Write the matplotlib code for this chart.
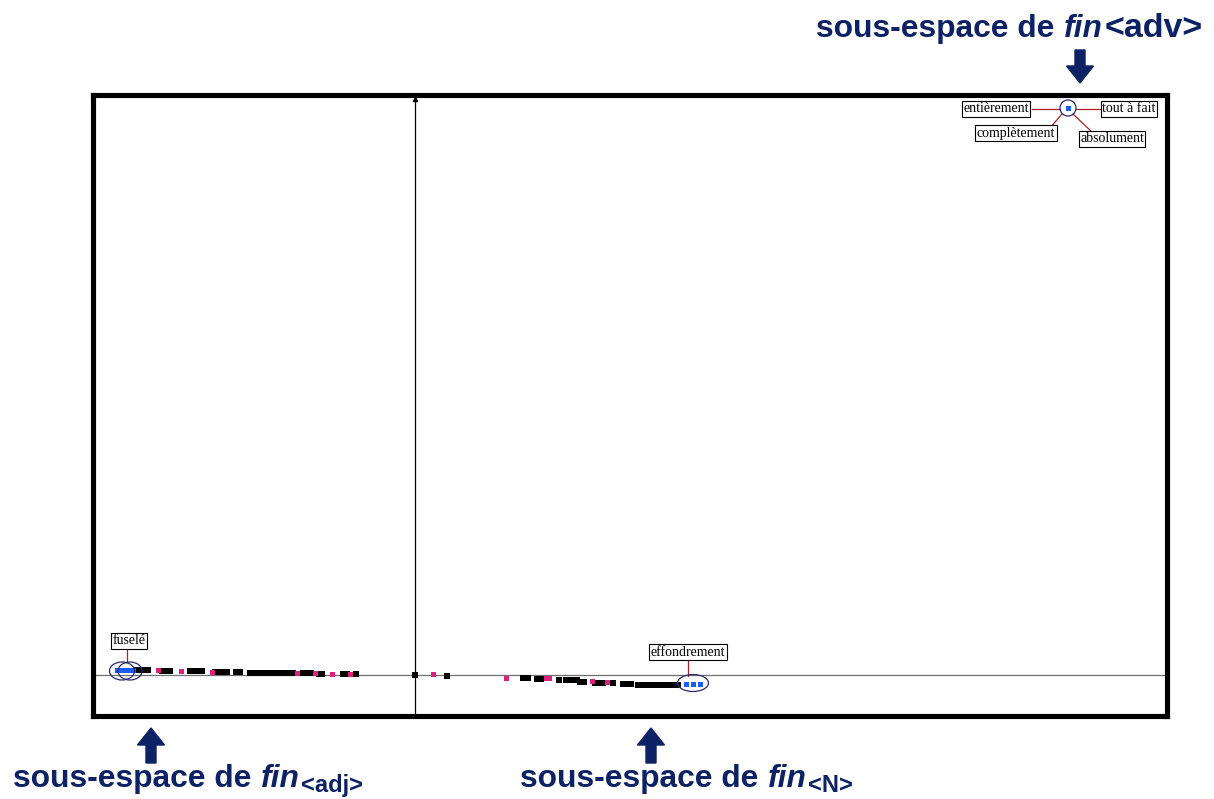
import matplotlib
matplotlib.use('Agg')
import matplotlib.pyplot as plt
from matplotlib.patches import Ellipse, FancyArrow
from matplotlib.transforms import IdentityTransform

# ── Données (coordonnées, origine = croisement des axes) ──
adj_noir_x = [-2.78, -2.76, -2.73, -2.70, -2.67, -2.53, -2.48, -2.45,
              -2.25, -2.22, -2.19, -2.16, -2.13, -2.00, -1.97, -1.94, -1.91, -1.88,
              -1.79, -1.75, -1.65, -1.61, -1.57, -1.53, -1.49, -1.45, -1.41, -1.37, -1.33,
              -1.30, -1.26, -1.22, -1.12, -1.08, -1.04, -0.96, -0.93, -0.72, -0.68, -0.59]
adj_noir_y = [0.05, 0.05, 0.05, 0.05, 0.05, 0.045, 0.04, 0.04,
              0.04, 0.04, 0.04, 0.04, 0.04, 0.035, 0.035, 0.035, 0.035, 0.035,
              0.03, 0.03, 0.025, 0.025, 0.025, 0.025, 0.025, 0.025, 0.025, 0.025, 0.025,
              0.02, 0.02, 0.02, 0.02, 0.02, 0.02, 0.015, 0.015, 0.01, 0.01, 0.01]
adj_rose_x = [-2.57, -2.34, -2.03, -1.18, -1.00, -0.83, -0.65]
adj_rose_y = [0.05, 0.04, 0.035, 0.02, 0.02, 0.01, 0.01]
adj_bleu_x = [-2.98, -2.94, -2.90, -2.86, -2.82]
adj_bleu_y = [0.05, 0.05, 0.05, 0.05, 0.05]

n_noir_x = [0.0, 0.32, 1.08, 1.13, 1.22, 1.26, 1.44, 1.51, 1.55, 1.59, 1.62,
            1.65, 1.69, 1.80, 1.84, 1.88, 1.98, 2.08, 2.12, 2.16,
            2.23, 2.27, 2.31, 2.35, 2.39, 2.43, 2.47, 2.51, 2.55, 2.59, 2.63]
n_noir_y = [0.0, -0.01, -0.03, -0.03, -0.04, -0.04, -0.05, -0.05, -0.05, -0.05, -0.05,
            -0.07, -0.07, -0.08, -0.08, -0.08, -0.08, -0.085, -0.085, -0.085,
            -0.095, -0.095, -0.095, -0.095, -0.095, -0.095, -0.095, -0.095, -0.095, -0.095, -0.095]
n_rose_x = [0.18, 0.91, 1.31, 1.34, 1.77, 1.92]
n_rose_y = [0.01, -0.03, -0.03, -0.03, -0.06, -0.07]
n_bleu_x = [2.71, 2.78, 2.85]
n_bleu_y = [-0.09, -0.09, -0.09]

adv_bleu_x = [6.53]
adv_bleu_y = [5.67]

# ellipses : centre x, centre y, largeur, hauteur
ell_x = [-2.93, -2.85, 2.78, 6.53]
ell_y = [0.04, 0.04, -0.08, 5.67]
ell_w = [0.25, 0.24, 0.31, 0.16]
ell_h = [0.18, 0.18, 0.17, 0.16]

# étiquettes et traits de rappel
etiquettes = ['entièrement', 'tout à fait', 'complètement', 'absolument', 'fuselé', 'effondrement']
etiq_x = [5.81, 7.14, 6.01, 6.97, -2.86, 2.73]
etiq_y = [5.66, 5.66, 5.42, 5.36, 0.34, 0.23]
trait_x0 = [6.17, 6.61, 6.35, 6.78, -2.88, 2.73]
trait_y0 = [5.66, 5.66, 5.47, 5.42, 0.27, 0.17]
trait_x1 = [6.45, 6.85, 6.47, 6.58, -2.88, 2.73]
trait_y1 = [5.66, 5.66, 5.61, 5.61, 0.13, -0.01]

marine = '#0c2264'
rose = '#e0207f'
bleu = '#1a5cff'

# ── Figure ──
fig = plt.figure(figsize=(12.14, 7.99), dpi=100)
W, H = 1214, 799
ax = fig.add_axes([92.5 / W, (H - 716) / H, (1167 - 92.5) / W, (716 - 94.5) / H])
ax.set_xlim(-3.225, 7.52)
ax.set_ylim(-0.41, 5.805)
ax.set_xticks([])
ax.set_yticks([])
for s in ax.spines.values():
    s.set_linewidth(3.7)
    s.set_color('black')

ax.axhline(0, color='#707070', lw=0.9, zorder=1)
ax.axvline(0, color='black', lw=0.9, zorder=1)
ax.plot([0], [5.76], marker='^', color='black', ms=3, zorder=2)

for i in range(len(ell_x)):
    ax.add_patch(Ellipse((ell_x[i], ell_y[i]), ell_w[i], ell_h[i],
                         fill=False, ec='#2a2a70', lw=0.9, zorder=4))

for i in range(len(etiquettes)):
    ax.plot([trait_x0[i], trait_x1[i]], [trait_y0[i], trait_y1[i]],
            color='#b02020', lw=0.9, zorder=2)
    ax.text(etiq_x[i], etiq_y[i], etiquettes[i], ha='center', va='center',
            family='Liberation Serif', fontsize=10, zorder=5,
            bbox=dict(boxstyle='square,pad=0.1', fc='white', ec='black', lw=0.8))

ax.plot(adj_noir_x, adj_noir_y, 's', color='black', ms=4.2, mew=0, zorder=3)
ax.plot(n_noir_x, n_noir_y, 's', color='black', ms=4.2, mew=0, zorder=3)
ax.plot(adj_rose_x, adj_rose_y, 's', color=rose, ms=3.6, mew=0, zorder=3)
ax.plot(n_rose_x, n_rose_y, 's', color=rose, ms=3.6, mew=0, zorder=3)
ax.plot(adj_bleu_x, adj_bleu_y, 's', color=bleu, ms=3.6, mew=0, zorder=3)
ax.plot(n_bleu_x, n_bleu_y, 's', color=bleu, ms=3.6, mew=0, zorder=3)
ax.plot(adv_bleu_x, adv_bleu_y, 's', color=bleu, ms=3.6, mew=0, zorder=3)

# ── Annotations (texte composé morceau par morceau) ──
fig.canvas.draw()
renderer = fig.canvas.get_renderer()


def texte_compose(x, y, morceaux):
    # morceaux : (texte, style, taille, décalage vertical en pixels)
    for txt, style, taille, dy in morceaux:
        t = fig.text(x, y - dy, txt, transform=IdentityTransform(), ha='left', va='baseline',
                     family='Liberation Sans', weight='bold', style=style,
                     fontsize=taille, color=marine)
        x = t.get_window_extent(renderer).x1 + 1


taille = 22.9
texte_compose(816, H - 37, [('sous-espace de ', 'normal', taille, 0),
                            ('fin', 'italic', taille, 0),
                            ('<adv>', 'normal', 24.5, 0)])
texte_compose(13, H - 787, [('sous-espace de ', 'normal', taille, 0),
                            ('fin', 'italic', taille, 0),
                            ('<adj>', 'normal', 17, 5)])
texte_compose(520, H - 787, [('sous-espace de ', 'normal', taille, 0),
                             ('fin', 'italic', taille, 0),
                             ('<N>', 'normal', 17, 5)])

# flèches
for fx, fy, fdy in [(151, H - 763, 35), (651, H - 763, 35), (1080, H - 50, -33)]:
    fig.add_artist(FancyArrow(fx, fy, 0, fdy, width=10, head_width=27, head_length=17,
                              length_includes_head=True, color=marine,
                              transform=IdentityTransform()))

fig.savefig('out.png', dpi=100)
